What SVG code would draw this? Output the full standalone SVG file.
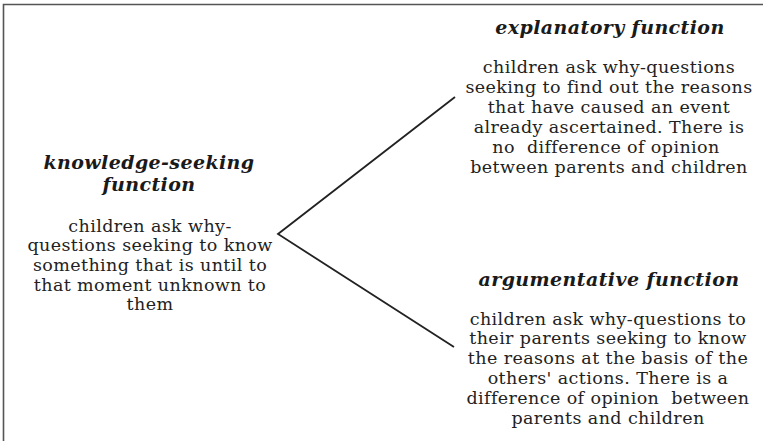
<svg xmlns="http://www.w3.org/2000/svg" width="763" height="441" viewBox="0 0 763 441">
<style>
.t{font-family:"DejaVu Serif","Liberation Serif",serif;font-weight:bold;font-style:italic;font-size:19px;letter-spacing:0.4px;fill:#1a1a1a;text-anchor:middle}
.b{font-family:"DejaVu Serif","Liberation Serif",serif;font-size:17.5px;letter-spacing:0.4px;fill:#222;text-anchor:middle;white-space:pre}
.c{stroke:#222;stroke-width:1.8;fill:none}
</style>
<rect width="763" height="441" fill="#fff"/>
<path d="M3.5,441 V4.5 H763" stroke="#555" stroke-width="1.6" fill="none"/>
<g id="connectors">
<path class="c" d="M455,97 L278,234 L454,347"/>
</g>
<g id="knowledge-seeking">
<text class="t" x="149" y="169">knowledge-seeking</text>
<text class="t" x="149" y="191">function</text>
<text class="b" x="150" y="232">children ask why-</text>
<text class="b" x="150" y="251">questions seeking to know</text>
<text class="b" x="150" y="271">something that is until to</text>
<text class="b" x="150" y="291">that moment unknown to</text>
<text class="b" x="150" y="310">them</text>
</g>
<g id="explanatory">
<text class="t" x="610" y="34">explanatory function</text>
<text class="b" x="609" y="73">children ask why-questions</text>
<text class="b" x="609" y="93">seeking to find out the reasons</text>
<text class="b" x="609" y="113">that have caused an event</text>
<text class="b" x="609" y="133">already ascertained. There is</text>
<text class="b" x="609" y="153">no  difference of opinion </text>
<text class="b" x="609" y="173">between parents and children</text>
</g>
<g id="argumentative">
<text class="t" x="609" y="286">argumentative function</text>
<text class="b" x="608" y="325">children ask why-questions to</text>
<text class="b" x="608" y="344">their parents seeking to know</text>
<text class="b" x="608" y="364">the reasons at the basis of the</text>
<text class="b" x="608" y="384">others' actions. There is a</text>
<text class="b" x="608" y="404">difference of opinion  between</text>
<text class="b" x="608" y="424">parents and children</text>
</g>
</svg>
